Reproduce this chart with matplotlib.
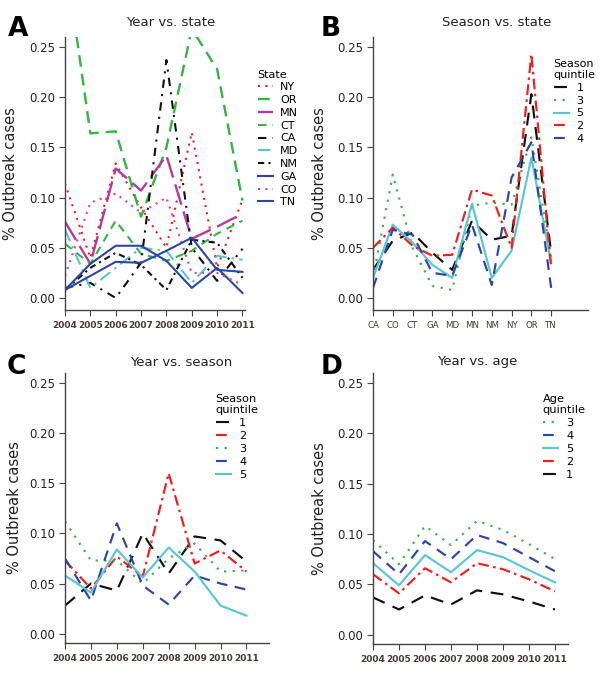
import matplotlib
matplotlib.use("Agg")
import matplotlib.pyplot as plt
import numpy as np

plt.rcParams['font.family'] = ['DejaVu Sans']

years = [2004, 2005, 2006, 2007, 2008, 2009, 2010, 2011]
states = ["CA", "CO", "CT", "GA", "MD", "MN", "NM", "NY", "OR", "TN"]

# Panel A: year vs state
a_NY = [0.114, 0.040, 0.134, 0.090, 0.050, 0.165, 0.030, 0.098]
a_OR = [0.342, 0.164, 0.166, 0.081, 0.150, 0.268, 0.228, 0.097]
a_MN = [0.076, 0.034, 0.129, 0.107, 0.142, 0.059, 0.071, 0.084]
a_CT = [0.054, 0.034, 0.077, 0.044, 0.037, 0.047, 0.064, 0.077]
a_CA = [0.010, 0.015, 0.000, 0.035, 0.237, 0.050, 0.017, 0.049]
a_MD = [0.068, 0.010, 0.030, 0.050, 0.047, 0.015, 0.042, 0.038]
a_NM = [0.008, 0.030, 0.045, 0.033, 0.008, 0.058, 0.055, 0.020]
a_GA = [0.008, 0.034, 0.052, 0.052, 0.037, 0.010, 0.030, 0.005]
a_CO = [0.022, 0.095, 0.104, 0.085, 0.100, 0.025, 0.025, 0.013]
a_TN = [0.008, 0.022, 0.036, 0.035, 0.047, 0.060, 0.028, 0.026]

# Panel B: season vs state
b_q1 = [0.028, 0.057, 0.065, 0.045, 0.028, 0.077, 0.058, 0.062, 0.203, 0.045]
b_q3 = [0.020, 0.123, 0.050, 0.012, 0.008, 0.092, 0.095, 0.093, 0.160, 0.040]
b_q5 = [0.020, 0.073, 0.055, 0.033, 0.020, 0.094, 0.020, 0.047, 0.140, 0.035]
b_q2 = [0.050, 0.070, 0.052, 0.042, 0.043, 0.108, 0.102, 0.050, 0.243, 0.030]
b_q4 = [0.010, 0.068, 0.063, 0.025, 0.022, 0.073, 0.013, 0.120, 0.155, 0.010]

# Panel C: year vs season
c_q1 = [0.028, 0.050, 0.043, 0.100, 0.060, 0.097, 0.093, 0.072]
c_q2 = [0.073, 0.045, 0.077, 0.057, 0.160, 0.070, 0.083, 0.062]
c_q3 = [0.112, 0.073, 0.073, 0.050, 0.075, 0.090, 0.062, 0.063]
c_q4 = [0.075, 0.033, 0.110, 0.048, 0.029, 0.058, 0.050, 0.044]
c_q5 = [0.058, 0.041, 0.084, 0.056, 0.086, 0.062, 0.028, 0.018]

# Panel D: year vs age
d_q3 = [0.094, 0.070, 0.108, 0.089, 0.113, 0.104, 0.090, 0.075]
d_q4 = [0.083, 0.060, 0.093, 0.075, 0.099, 0.091, 0.077, 0.063]
d_q5 = [0.071, 0.049, 0.079, 0.062, 0.084, 0.077, 0.064, 0.052]
d_q2 = [0.060, 0.041, 0.066, 0.052, 0.071, 0.065, 0.055, 0.043]
d_q1 = [0.037, 0.025, 0.039, 0.030, 0.044, 0.040, 0.033, 0.025]

RED = "#f21c1c"
GREEN = "#33b540"
BLUE = "#2c45a8"
CYAN = "#58c6d6"
BLACK = "#111111"
MAG = "#b8399e"
PINK = "#f0407a"

S_BLACK = (0, (6, 4))
S_RED = (0, (5, 2, 1.2, 2))
S_GREEN = (0, (1, 3))
S_BLUE = (0, (5, 3.5))
S_CYAN = "-"
LW = 1.55

W, H = 600, 683
fig = plt.figure(figsize=(W / 100, H / 100), dpi=100)
fig.patch.set_facecolor("white")


def box(l, t, r, b):
    return [l / W, 1 - b / H, (r - l) / W, (b - t) / H]


def style(ax, ylab_x):
    for s in ["top", "right"]:
        ax.spines[s].set_visible(False)
    for s in ["left", "bottom"]:
        ax.spines[s].set_color("#444444")
        ax.spines[s].set_linewidth(1.0)
    ax.set_yticks([0.0, 0.05, 0.10, 0.15, 0.20, 0.25])
    ax.set_yticklabels(["0.00", "0.05", "0.10", "0.15", "0.20", "0.25"])
    ax.tick_params(axis="y", direction="out", length=4, labelsize=8.5,
                   colors="#444444", labelcolor="#222222", pad=3)
    ax.tick_params(axis="x", direction="out", length=4, colors="#444444",
                   labelcolor="#4a3a33", pad=4)
    ax.set_ylabel("% Outbreak cases", fontsize=10.5, color="#222222")
    ax.yaxis.set_label_coords(ylab_x, 0.5)


def leg(ax, handles, labels, title, x, y, fs=8):
    lg = ax.legend(handles, labels, title=title, loc="upper left",
                   bbox_to_anchor=(x / W, 1 - y / H),
                   bbox_transform=fig.transFigure, frameon=False,
                   fontsize=fs, title_fontsize=fs, handlelength=1.35,
                   handletextpad=0.7, labelspacing=0.25, borderpad=0,
                   alignment="left")
    return lg


# ---------------- Panel A ----------------
axA = fig.add_axes(box(65, 37, 245, 310))
series_a = [
    ("NY", a_NY, RED, (0, (1, 2.5)), 1.5),
    ("OR", a_OR, GREEN, (0, (5, 3)), 1.7),
    ("MN", a_MN, MAG, (0, (9, 3)), 1.7),
    ("CT", a_CT, GREEN, (0, (4, 3)), 1.5),
    ("CA", a_CA, BLACK, (0, (4, 3, 1, 3)), 1.5),
    ("MD", a_MD, CYAN, (0, (6, 2.5, 1.2, 2.5)), 1.5),
    ("NM", a_NM, BLACK, (0, (3, 2, 1, 2)), 1.5),
    ("GA", a_GA, BLUE, "-", 1.5),
    ("CO", a_CO, PINK, (0, (1, 2.5)), 1.5),
    ("TN", a_TN, BLUE, "-", 1.5),
]
hA = []
for name, vals, c, ls, lw in series_a:
    (ln,) = axA.plot(years, vals, color=c, linestyle=ls, linewidth=lw)
    hA.append(ln)
axA.set_xlim(2004, 2011.1)
axA.set_ylim(-0.012, 0.26)
axA.set_xticks(years)
axA.set_xticklabels([str(y) for y in years], fontsize=6.5, fontweight="bold")
style(axA, -0.26)
leg(axA, hA, [s[0] for s in series_a], "State", 252, 64, fs=8)

# ---------------- Panel B ----------------
axB = fig.add_axes(box(373, 37, 588, 310))
xb = np.arange(len(states))
series_b = [
    ("1", b_q1, BLACK, S_BLACK),
    ("3", b_q3, GREEN, S_GREEN),
    ("5", b_q5, CYAN, S_CYAN),
    ("2", b_q2, RED, S_RED),
    ("4", b_q4, BLUE, S_BLUE),
]
hB = []
for name, vals, c, ls in series_b:
    (ln,) = axB.plot(xb, vals, color=c, linestyle=ls, linewidth=LW)
    hB.append(ln)
axB.set_xlim(0, 10.86)
axB.set_ylim(-0.012, 0.26)
axB.set_xticks(xb)
axB.set_xticklabels(states, fontsize=6.2)
style(axB, -0.215)
leg(axB, hB, [s[0] for s in series_b], "Season\nquintile", 548, 53, fs=8.0)

# ---------------- Panel C ----------------
axC = fig.add_axes(box(65, 373, 269, 643))
series_c = [
    ("1", c_q1, BLACK, S_BLACK),
    ("2", c_q2, RED, S_RED),
    ("3", c_q3, GREEN, S_GREEN),
    ("4", c_q4, BLUE, S_BLUE),
    ("5", c_q5, CYAN, S_CYAN),
]
hC = []
for name, vals, c, ls in series_c:
    (ln,) = axC.plot(years, vals, color=c, linestyle=ls, linewidth=LW)
    hC.append(ln)
axC.set_xlim(2004, 2011.87)
axC.set_ylim(-0.0093, 0.26)
axC.set_xticks(years)
axC.set_xticklabels([str(y) for y in years], fontsize=6.5, fontweight="bold")
style(axC, -0.21)
leg(axC, hC, [s[0] for s in series_c], "Season\nquintile", 210, 388, fs=8.2)

# ---------------- Panel D ----------------
axD = fig.add_axes(box(373, 373, 568, 644))
series_d = [
    ("3", d_q3, GREEN, S_GREEN),
    ("4", d_q4, BLUE, S_BLUE),
    ("5", d_q5, CYAN, S_CYAN),
    ("2", d_q2, RED, S_RED),
    ("1", d_q1, BLACK, S_BLACK),
]
hD = []
for name, vals, c, ls in series_d:
    (ln,) = axD.plot(years, vals, color=c, linestyle=ls, linewidth=LW)
    hD.append(ln)
axD.set_xlim(2004, 2011.5)
axD.set_ylim(-0.0093, 0.26)
axD.set_xticks(years)
axD.set_xticklabels([str(y) for y in years], fontsize=6.5, fontweight="bold")
style(axD, -0.235)
leg(axD, hD, [s[0] for s in series_d], "Age\nquintile", 537, 388, fs=8.2)

# Titles and panel letters
def ftext(x, y, s, **kw):
    fig.text(x / W, 1 - y / H, s, **kw)

ftext(171, 22, "Year vs. state", ha="center", va="center", fontsize=9.5, color="#222222")
ftext(497, 22, "Season vs. state", ha="center", va="center", fontsize=9.5, color="#222222")
ftext(181, 362, "Year vs. season", ha="center", va="center", fontsize=9.5, color="#222222")
ftext(477, 362, "Year vs. age", ha="center", va="center", fontsize=9.5, color="#222222")

for letter, x, y in [("A", 8, 36), ("B", 321, 36), ("C", 7, 374), ("D", 321, 374)]:
    ftext(x, y, letter, ha="left", va="baseline", fontsize=19, fontweight="bold", color="black")

fig.savefig("out.png", dpi=100, facecolor="white")
